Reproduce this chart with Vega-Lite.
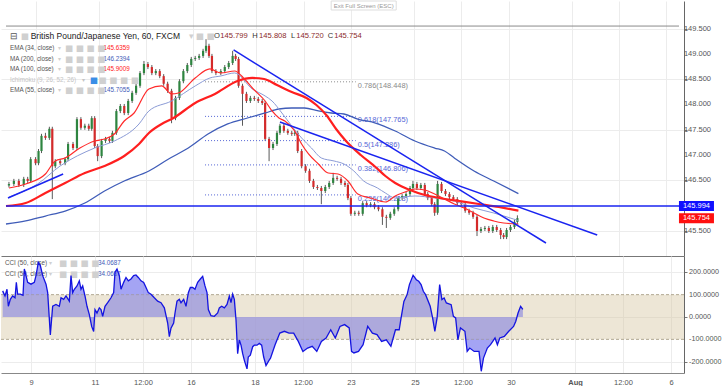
{
  "$schema": "https://vega.github.io/schema/vega-lite/v6.json",
  "padding": 0,
  "spacing": 0,
  "background": "white",
  "config": {"view": {"stroke": null}, "font": "Liberation Sans", "text": {"font": "Liberation Sans"}},
  "datasets": {
    "candles": [
      {"t":-0.844,"o":146.40,"h":146.47,"l":146.36,"c":146.43},{"t":-0.688,"o":146.43,"h":146.53,"l":146.39,"c":146.49},{"t":-0.531,"o":146.49,"h":146.53,"l":146.37,"c":146.41},{"t":-0.375,"o":146.41,"h":146.57,"l":146.37,"c":146.53},{"t":-0.25,"o":146.53,"h":146.57,"l":146.45,"c":146.49},{"t":-0.156,"o":146.49,"h":146.96,"l":146.45,"c":146.92},{"t":0,"o":146.92,"h":146.96,"l":146.80,"c":146.84},{"t":0.094,"o":146.84,"h":147.12,"l":146.80,"c":147.08},{"t":0.188,"o":147.08,"h":147.42,"l":147.04,"c":147.38},{"t":0.313,"o":147.38,"h":147.44,"l":147.30,"c":147.34},{"t":0.438,"o":147.34,"h":147.56,"l":147.30,"c":147.52},{"t":0.531,"o":147.52,"h":147.56,"l":146.13,"c":146.78},{"t":0.625,"o":146.78,"h":146.92,"l":146.74,"c":146.88},{"t":0.781,"o":146.88,"h":146.92,"l":146.80,"c":146.84},{"t":0.938,"o":146.84,"h":146.96,"l":146.80,"c":146.92},{"t":1.031,"o":146.92,"h":147.26,"l":146.88,"c":147.22},{"t":1.188,"o":147.22,"h":147.26,"l":147.10,"c":147.14},{"t":1.313,"o":147.14,"h":147.75,"l":147.10,"c":147.71},{"t":1.438,"o":147.71,"h":147.75,"l":147.50,"c":147.54},{"t":1.563,"o":147.54,"h":147.62,"l":147.50,"c":147.58},{"t":1.688,"o":147.58,"h":147.62,"l":147.48,"c":147.52},{"t":1.781,"o":147.52,"h":147.77,"l":147.48,"c":147.73},{"t":1.875,"o":147.73,"h":147.77,"l":147.14,"c":147.18},{"t":1.969,"o":147.18,"h":147.22,"l":146.88,"c":146.98},{"t":2.094,"o":146.98,"h":147.32,"l":146.94,"c":147.28},{"t":2.219,"o":147.28,"h":147.36,"l":147.24,"c":147.32},{"t":2.344,"o":147.32,"h":147.36,"l":147.24,"c":147.28},{"t":2.438,"o":147.28,"h":147.48,"l":147.24,"c":147.44},{"t":2.563,"o":147.44,"h":147.91,"l":147.40,"c":147.87},{"t":2.688,"o":147.87,"h":148.01,"l":147.83,"c":147.97},{"t":2.813,"o":147.97,"h":148.01,"l":147.79,"c":147.83},{"t":2.938,"o":147.83,"h":148.11,"l":147.79,"c":148.07},{"t":3.063,"o":148.07,"h":148.27,"l":148.03,"c":148.23},{"t":3.188,"o":148.23,"h":148.41,"l":148.19,"c":148.37},{"t":3.313,"o":148.37,"h":148.66,"l":148.33,"c":148.62},{"t":3.438,"o":148.62,"h":148.86,"l":148.58,"c":148.80},{"t":3.563,"o":148.80,"h":148.84,"l":148.70,"c":148.74},{"t":3.688,"o":148.74,"h":148.78,"l":148.58,"c":148.62},{"t":3.813,"o":148.62,"h":148.70,"l":148.58,"c":148.66},{"t":3.938,"o":148.66,"h":148.70,"l":148.52,"c":148.56},{"t":4.063,"o":148.56,"h":148.60,"l":148.37,"c":148.41},{"t":4.188,"o":148.41,"h":148.45,"l":148.23,"c":148.27},{"t":4.313,"o":148.27,"h":148.31,"l":147.63,"c":147.73},{"t":4.438,"o":147.73,"h":148.17,"l":147.69,"c":148.13},{"t":4.563,"o":148.13,"h":148.50,"l":148.09,"c":148.46},{"t":4.688,"o":148.46,"h":148.70,"l":148.42,"c":148.66},{"t":4.813,"o":148.66,"h":148.82,"l":148.62,"c":148.78},{"t":4.938,"o":148.78,"h":148.94,"l":148.74,"c":148.90},{"t":5.063,"o":148.90,"h":148.96,"l":148.86,"c":148.92},{"t":5.188,"o":148.92,"h":149.00,"l":148.88,"c":148.96},{"t":5.313,"o":148.96,"h":149.10,"l":148.92,"c":149.06},{"t":5.406,"o":149.06,"h":149.29,"l":149.02,"c":149.16},{"t":5.5,"o":149.16,"h":149.20,"l":148.92,"c":148.96},{"t":5.594,"o":148.96,"h":149.00,"l":148.62,"c":148.66},{"t":5.719,"o":148.66,"h":148.70,"l":148.58,"c":148.62},{"t":5.875,"o":148.62,"h":148.70,"l":148.58,"c":148.66},{"t":6.0,"o":148.66,"h":148.78,"l":148.62,"c":148.74},{"t":6.125,"o":148.74,"h":148.86,"l":148.70,"c":148.82},{"t":6.25,"o":148.82,"h":149.06,"l":148.78,"c":148.96},{"t":6.344,"o":148.96,"h":149.00,"l":148.86,"c":148.90},{"t":6.438,"o":148.90,"h":148.94,"l":148.33,"c":148.37},{"t":6.563,"o":148.37,"h":148.41,"l":147.58,"c":148.21},{"t":6.688,"o":148.21,"h":148.25,"l":148.03,"c":148.07},{"t":6.813,"o":148.07,"h":148.17,"l":148.03,"c":148.13},{"t":6.938,"o":148.13,"h":148.17,"l":148.07,"c":148.11},{"t":7.063,"o":148.11,"h":148.15,"l":148.03,"c":148.07},{"t":7.188,"o":148.07,"h":148.11,"l":147.99,"c":148.03},{"t":7.281,"o":148.03,"h":148.07,"l":147.28,"c":147.32},{"t":7.406,"o":147.32,"h":147.36,"l":146.88,"c":147.14},{"t":7.531,"o":147.14,"h":147.26,"l":147.10,"c":147.22},{"t":7.656,"o":147.22,"h":147.48,"l":147.18,"c":147.44},{"t":7.75,"o":147.44,"h":147.62,"l":147.40,"c":147.58},{"t":7.875,"o":147.58,"h":147.62,"l":147.44,"c":147.48},{"t":8.0,"o":147.48,"h":147.52,"l":147.40,"c":147.44},{"t":8.125,"o":147.44,"h":147.48,"l":147.38,"c":147.42},{"t":8.219,"o":147.42,"h":147.48,"l":147.38,"c":147.44},{"t":8.313,"o":147.44,"h":147.48,"l":147.04,"c":147.08},{"t":8.438,"o":147.08,"h":147.12,"l":146.74,"c":146.78},{"t":8.563,"o":146.78,"h":146.82,"l":146.65,"c":146.69},{"t":8.688,"o":146.69,"h":146.73,"l":146.45,"c":146.49},{"t":8.813,"o":146.49,"h":146.53,"l":146.33,"c":146.37},{"t":8.938,"o":146.37,"h":146.41,"l":146.31,"c":146.35},{"t":9.063,"o":146.35,"h":146.39,"l":146.03,"c":146.29},{"t":9.188,"o":146.29,"h":146.41,"l":146.25,"c":146.37},{"t":9.313,"o":146.37,"h":146.49,"l":146.33,"c":146.45},{"t":9.438,"o":146.45,"h":146.65,"l":146.41,"c":146.55},{"t":9.563,"o":146.55,"h":146.59,"l":146.49,"c":146.53},{"t":9.688,"o":146.53,"h":146.57,"l":146.41,"c":146.45},{"t":9.813,"o":146.45,"h":146.49,"l":146.37,"c":146.41},{"t":9.906,"o":146.41,"h":146.45,"l":146.11,"c":146.15},{"t":10.0,"o":146.15,"h":146.19,"l":145.80,"c":145.84},{"t":10.125,"o":145.84,"h":145.90,"l":145.80,"c":145.86},{"t":10.25,"o":145.86,"h":145.90,"l":145.80,"c":145.84},{"t":10.375,"o":145.84,"h":146.09,"l":145.80,"c":146.05},{"t":10.5,"o":146.05,"h":146.09,"l":145.97,"c":146.01},{"t":10.625,"o":146.01,"h":146.07,"l":145.97,"c":146.03},{"t":10.75,"o":146.03,"h":146.07,"l":145.93,"c":145.97},{"t":10.875,"o":145.97,"h":146.01,"l":145.89,"c":145.93},{"t":11.0,"o":145.93,"h":145.97,"l":145.62,"c":145.78},{"t":11.125,"o":145.78,"h":145.82,"l":145.56,"c":145.76},{"t":11.25,"o":145.76,"h":145.88,"l":145.72,"c":145.84},{"t":11.375,"o":145.84,"h":145.97,"l":145.80,"c":145.93},{"t":11.5,"o":145.93,"h":146.19,"l":145.89,"c":146.15},{"t":11.625,"o":146.15,"h":146.23,"l":146.11,"c":146.19},{"t":11.75,"o":146.19,"h":146.27,"l":146.15,"c":146.23},{"t":11.875,"o":146.23,"h":146.39,"l":146.19,"c":146.35},{"t":11.969,"o":146.35,"h":146.49,"l":146.31,"c":146.43},{"t":12.094,"o":146.43,"h":146.47,"l":146.31,"c":146.35},{"t":12.219,"o":146.35,"h":146.45,"l":146.31,"c":146.41},{"t":12.344,"o":146.41,"h":146.45,"l":146.19,"c":146.23},{"t":12.438,"o":146.23,"h":146.27,"l":146.11,"c":146.15},{"t":12.563,"o":146.15,"h":146.19,"l":145.99,"c":146.03},{"t":12.656,"o":146.03,"h":146.07,"l":145.80,"c":145.86},{"t":12.75,"o":145.86,"h":146.49,"l":145.82,"c":146.43},{"t":12.875,"o":146.43,"h":146.47,"l":146.25,"c":146.29},{"t":13.0,"o":146.29,"h":146.33,"l":146.19,"c":146.23},{"t":13.125,"o":146.23,"h":146.27,"l":146.13,"c":146.17},{"t":13.25,"o":146.17,"h":146.21,"l":146.09,"c":146.13},{"t":13.375,"o":146.13,"h":146.17,"l":146.01,"c":146.05},{"t":13.5,"o":146.05,"h":146.09,"l":145.99,"c":146.03},{"t":13.625,"o":146.03,"h":146.07,"l":145.86,"c":145.90},{"t":13.75,"o":145.90,"h":145.94,"l":145.82,"c":145.86},{"t":13.875,"o":145.86,"h":145.90,"l":145.74,"c":145.78},{"t":14.0,"o":145.78,"h":145.82,"l":145.40,"c":145.50},{"t":14.125,"o":145.50,"h":145.58,"l":145.46,"c":145.54},{"t":14.25,"o":145.54,"h":145.60,"l":145.50,"c":145.56},{"t":14.375,"o":145.56,"h":145.60,"l":145.46,"c":145.50},{"t":14.5,"o":145.50,"h":145.62,"l":145.46,"c":145.58},{"t":14.625,"o":145.58,"h":145.62,"l":145.48,"c":145.52},{"t":14.75,"o":145.52,"h":145.56,"l":145.34,"c":145.42},{"t":14.844,"o":145.42,"h":145.46,"l":145.34,"c":145.38},{"t":14.938,"o":145.38,"h":145.56,"l":145.34,"c":145.52},{"t":15.063,"o":145.52,"h":145.62,"l":145.48,"c":145.58},{"t":15.188,"o":145.58,"h":145.72,"l":145.54,"c":145.68},{"t":15.281,"o":145.68,"h":145.81,"l":145.64,"c":145.754}
    ],
    "ma100": [
      {"t":-0.9375,"p":145.994},{"t":-0.3125,"p":146.053},{"t":0.3125,"p":146.251},{"t":0.9375,"p":146.449},{"t":1.5625,"p":146.646},{"t":2.1875,"p":146.785},{"t":2.8125,"p":146.982},{"t":3.281,"p":147.219},{"t":3.594,"p":147.437},{"t":4.0,"p":147.615},{"t":4.375,"p":147.733},{"t":5.0625,"p":148.030},{"t":5.6875,"p":148.208},{"t":6.406,"p":148.464},{"t":6.875,"p":148.524},{"t":7.25,"p":148.504},{"t":7.656,"p":148.385},{"t":8.125,"p":148.247},{"t":8.594,"p":148.128},{"t":8.906,"p":147.990},{"t":9.219,"p":147.793},{"t":9.531,"p":147.516},{"t":9.844,"p":147.279},{"t":10.3125,"p":147.002},{"t":10.78,"p":146.765},{"t":11.094,"p":146.587},{"t":11.406,"p":146.449},{"t":11.875,"p":146.310},{"t":12.344,"p":146.211},{"t":12.8125,"p":146.152},{"t":13.4375,"p":146.093},{"t":14.0625,"p":146.034},{"t":14.6875,"p":145.974},{"t":15.3125,"p":145.901}
    ],
    "ema34": [
      {"t":-0.844,"p":146.350},{"t":-0.3125,"p":146.429},{"t":0.3125,"p":146.626},{"t":0.625,"p":146.883},{"t":0.9375,"p":146.943},{"t":1.406,"p":147.140},{"t":1.875,"p":147.279},{"t":2.1875,"p":147.318},{"t":2.5,"p":147.417},{"t":2.8125,"p":147.674},{"t":3.125,"p":147.832},{"t":3.594,"p":148.306},{"t":4.0,"p":148.366},{"t":4.3125,"p":148.208},{"t":4.531,"p":148.227},{"t":5.0625,"p":148.524},{"t":5.531,"p":148.702},{"t":5.875,"p":148.623},{"t":6.3125,"p":148.662},{"t":6.625,"p":148.504},{"t":6.875,"p":148.326},{"t":7.281,"p":148.069},{"t":7.5,"p":147.872},{"t":7.719,"p":147.733},{"t":7.906,"p":147.674},{"t":8.219,"p":147.476},{"t":8.4375,"p":147.219},{"t":8.656,"p":147.022},{"t":8.969,"p":146.824},{"t":9.281,"p":146.646},{"t":9.594,"p":146.626},{"t":9.906,"p":146.488},{"t":10.219,"p":146.231},{"t":10.625,"p":146.152},{"t":11.094,"p":146.073},{"t":11.406,"p":146.192},{"t":11.719,"p":146.271},{"t":12.031,"p":146.330},{"t":12.344,"p":146.310},{"t":12.656,"p":146.231},{"t":12.969,"p":146.132},{"t":13.281,"p":146.034},{"t":13.594,"p":145.955},{"t":13.906,"p":145.856},{"t":14.219,"p":145.757},{"t":14.531,"p":145.698},{"t":14.844,"p":145.658},{"t":15.3125,"p":145.636}
    ],
    "ema55": [
      {"t":-0.844,"p":146.172},{"t":0.0625,"p":146.429},{"t":0.781,"p":146.785},{"t":1.875,"p":147.140},{"t":2.5,"p":147.279},{"t":3.281,"p":147.615},{"t":3.594,"p":147.872},{"t":4.3125,"p":148.069},{"t":5.0625,"p":148.366},{"t":5.531,"p":148.524},{"t":5.875,"p":148.563},{"t":6.3125,"p":148.623},{"t":6.875,"p":148.306},{"t":7.281,"p":148.168},{"t":7.5,"p":148.069},{"t":7.8125,"p":147.832},{"t":8.125,"p":147.575},{"t":8.4375,"p":147.338},{"t":8.75,"p":147.140},{"t":9.0625,"p":146.943},{"t":9.469,"p":146.883},{"t":9.781,"p":146.824},{"t":10.094,"p":146.686},{"t":10.406,"p":146.488},{"t":10.844,"p":146.350},{"t":11.094,"p":146.251},{"t":11.406,"p":146.152},{"t":12.031,"p":146.192},{"t":12.656,"p":146.152},{"t":13.281,"p":146.093},{"t":13.906,"p":145.955},{"t":14.531,"p":145.856},{"t":15.156,"p":145.737},{"t":15.3125,"p":145.706}
    ],
    "ma200": [
      {"t":-0.9375,"p":145.638},{"t":-0.3125,"p":145.698},{"t":0.3125,"p":145.796},{"t":0.9375,"p":145.895},{"t":1.5625,"p":146.053},{"t":2.1875,"p":146.291},{"t":2.8125,"p":146.488},{"t":3.594,"p":146.686},{"t":4.219,"p":146.923},{"t":4.844,"p":147.140},{"t":5.469,"p":147.417},{"t":6.094,"p":147.615},{"t":6.719,"p":147.733},{"t":7.281,"p":147.832},{"t":7.719,"p":147.911},{"t":8.125,"p":147.931},{"t":8.531,"p":147.931},{"t":8.969,"p":147.872},{"t":9.375,"p":147.832},{"t":9.781,"p":147.812},{"t":10.219,"p":147.713},{"t":10.78,"p":147.634},{"t":11.406,"p":147.476},{"t":12.031,"p":147.279},{"t":12.656,"p":147.140},{"t":12.969,"p":147.081},{"t":13.281,"p":146.943},{"t":13.906,"p":146.686},{"t":14.531,"p":146.488},{"t":15.3125,"p":146.239}
    ],
    "trend": [
      {"id":"A","t":6.281,"p":149.077},{"id":"A","t":16.1875,"p":145.263},
      {"id":"B","t":7.75,"p":147.654},{"id":"B","t":17.8125,"p":145.42},
      {"id":"C","t":-0.875,"p":146.152},{"id":"C","t":0.875,"p":146.626}
    ],
    "fib": [
      {"p":148.448,"s":"0.786(148.448)","k":"fibg"},
      {"p":147.765,"s":"0.618(147.765)","k":"fibb"},
      {"p":147.286,"s":"0.5(147.286)","k":"fibb"},
      {"p":146.806,"s":"0.382(146.806)","k":"fibb"},
      {"p":146.213,"s":"0.236(146.213)","k":"fibb"}
    ],
    "priceTicks": [
      {"p":145.5},{"p":146.0},{"p":146.5},{"p":147.0},{"p":147.5},{"p":148.0},{"p":148.5},{"p":149.0},{"p":149.5}
    ],
    "cciTicks": [
      {"v":200,"s":"200.0000"},{"v":100,"s":"100.0000"},{"v":0,"s":"0.0000"},{"v":-100,"s":"-100.0000"},{"v":-200,"s":"-200.0000"}
    ],
    "boxes": [
      {"p":145.994,"s":"145.994","k":"boxb"},
      {"p":145.754,"s":"145.754","k":"boxr"}
    ],
    "legTitle": [
      {"t":-0.8125,"p":149.354,"s":"⊟","k":"lab"},
      {"t":-0.156,"p":149.354,"s":"British Pound/Japanese Yen, 60, FXCM","k":"title"},
      {"t":4.875,"p":149.354,"s":"▾","k":"icon"}
    ],
    "legOHLC": [
      {"t":5.656,"p":149.354,"s":"O","k":"dark"},
      {"t":5.86,"p":149.354,"s":"145.799","k":"num"},
      {"t":6.875,"p":149.354,"s":"H","k":"dark"},
      {"t":7.09,"p":149.354,"s":"145.808","k":"num"},
      {"t":8.1,"p":149.354,"s":"L","k":"dark"},
      {"t":8.27,"p":149.354,"s":"145.720","k":"num"},
      {"t":9.27,"p":149.354,"s":"C","k":"dark"},
      {"t":9.47,"p":149.354,"s":"145.754","k":"num"}
    ],
    "legRows": [
      {"t":-0.8125,"p":149.117,"s":"EMA (34, close)","k":"lab"},
      {"t":0.72,"p":149.117,"s":"▾","k":"icon"},
      {"t":2.156,"p":149.117,"s":"145.6359","k":"red"},
      {"t":-0.8125,"p":148.899,"s":"MA (200, close)","k":"lab"},
      {"t":0.72,"p":148.899,"s":"▾","k":"icon"},
      {"t":2.156,"p":148.899,"s":"146.2394","k":"blue"},
      {"t":-0.8125,"p":148.702,"s":"MA (100, close)","k":"lab"},
      {"t":0.72,"p":148.702,"s":"▾","k":"icon"},
      {"t":2.156,"p":148.702,"s":"145.9009","k":"red"},
      {"t":-0.8125,"p":148.484,"s":"Ichimoku (9, 26, 52, 26)","k":"faint"},
      {"t":1.47,"p":148.484,"s":"▾","k":"faint"},
      {"t":-0.8125,"p":148.287,"s":"EMA (55, close)","k":"lab"},
      {"t":0.72,"p":148.287,"s":"▾","k":"icon"},
      {"t":2.156,"p":148.287,"s":"145.7055","k":"blue"}
    ],
    "legIcons": [
      {"t":-0.47,"p":149.354,"s":"■","k":"icon"},
      {"t":0.9375,"p":149.117,"s":"■ ■ ■ ■","k":"icon"},
      {"t":0.9375,"p":148.899,"s":"■ ■ ■ ■","k":"icon"},
      {"t":0.9375,"p":148.702,"s":"■ ■ ■ ■","k":"icon"},
      {"t":1.72,"p":148.484,"s":"■","k":"eye"},
      {"t":2.0,"p":148.484,"s":"■ ■ ■ ■","k":"icon"},
      {"t":0.9375,"p":148.287,"s":"■ ■ ■ ■","k":"icon"},
      {"t":5.08,"p":149.354,"s":"■ ■","k":"icon"}
    ],
    "cci": [
      {"t":-0.885,"v":117},{"t":-0.8125,"v":94},{"t":-0.75,"v":124},{"t":-0.708,"v":48},{"t":-0.646,"v":79},{"t":-0.573,"v":94},{"t":-0.5,"v":86},{"t":-0.458,"v":155},{"t":-0.417,"v":102},{"t":-0.333,"v":102},{"t":-0.25,"v":97},{"t":-0.208,"v":215},{"t":-0.156,"v":185},{"t":-0.104,"v":155},{"t":0,"v":147},{"t":0.104,"v":155},{"t":0.156,"v":185},{"t":0.229,"v":245},{"t":0.292,"v":230},{"t":0.365,"v":185},{"t":0.469,"v":147},{"t":0.521,"v":109},{"t":0.604,"v":-80},{"t":0.677,"v":48},{"t":0.781,"v":56},{"t":0.885,"v":48},{"t":0.938,"v":86},{"t":1.021,"v":79},{"t":1.094,"v":94},{"t":1.198,"v":71},{"t":1.25,"v":185},{"t":1.302,"v":109},{"t":1.354,"v":124},{"t":1.4375,"v":139},{"t":1.51,"v":162},{"t":1.5625,"v":124},{"t":1.615,"v":139},{"t":1.6875,"v":94},{"t":1.75,"v":48},{"t":1.823,"v":11},{"t":1.896,"v":-42},{"t":1.958,"v":-65},{"t":2.0,"v":33},{"t":2.0625,"v":18},{"t":2.135,"v":41},{"t":2.1875,"v":33},{"t":2.24,"v":3},{"t":2.3125,"v":48},{"t":2.396,"v":64},{"t":2.5,"v":86},{"t":2.583,"v":109},{"t":2.625,"v":200},{"t":2.6875,"v":215},{"t":2.76,"v":185},{"t":2.8125,"v":124},{"t":2.896,"v":155},{"t":2.969,"v":177},{"t":3.042,"v":162},{"t":3.125,"v":170},{"t":3.208,"v":185},{"t":3.281,"v":188},{"t":3.354,"v":177},{"t":3.4375,"v":162},{"t":3.521,"v":155},{"t":3.594,"v":132},{"t":3.667,"v":109},{"t":3.75,"v":102},{"t":3.854,"v":86},{"t":3.958,"v":71},{"t":4.0625,"v":64},{"t":4.167,"v":41},{"t":4.271,"v":-27},{"t":4.323,"v":-88},{"t":4.375,"v":-50},{"t":4.458,"v":-27},{"t":4.5,"v":18},{"t":4.5625,"v":71},{"t":4.635,"v":79},{"t":4.6875,"v":64},{"t":4.771,"v":79},{"t":4.844,"v":48},{"t":4.917,"v":109},{"t":4.979,"v":132},{"t":5.052,"v":132},{"t":5.125,"v":124},{"t":5.208,"v":155},{"t":5.292,"v":170},{"t":5.365,"v":182},{"t":5.4375,"v":139},{"t":5.5,"v":109},{"t":5.542,"v":33},{"t":5.625,"v":6},{"t":5.729,"v":3},{"t":5.833,"v":18},{"t":5.885,"v":41},{"t":5.958,"v":48},{"t":6.042,"v":41},{"t":6.125,"v":56},{"t":6.198,"v":94},{"t":6.25,"v":64},{"t":6.302,"v":102},{"t":6.354,"v":79},{"t":6.406,"v":-12},{"t":6.458,"v":-164},{"t":6.51,"v":-103},{"t":6.5625,"v":-126},{"t":6.615,"v":-164},{"t":6.667,"v":-194},{"t":6.75,"v":-232},{"t":6.79,"v":-179},{"t":6.854,"v":-171},{"t":6.927,"v":-133},{"t":6.979,"v":-126},{"t":7.0625,"v":-126},{"t":7.135,"v":-118},{"t":7.208,"v":-126},{"t":7.271,"v":-179},{"t":7.344,"v":-217},{"t":7.4375,"v":-194},{"t":7.484,"v":-184},{"t":7.628,"v":-124},{"t":7.775,"v":-72},{"t":7.919,"v":-64},{"t":8.0625,"v":-72},{"t":8.209,"v":-72},{"t":8.353,"v":-109},{"t":8.497,"v":-154},{"t":8.644,"v":-139},{"t":8.788,"v":-131},{"t":8.931,"v":-154},{"t":9.075,"v":-109},{"t":9.222,"v":-94},{"t":9.366,"v":-57},{"t":9.509,"v":-94},{"t":9.655,"v":-42},{"t":9.8,"v":-34},{"t":9.944,"v":-49},{"t":10.016,"v":-154},{"t":10.09,"v":-161},{"t":10.234,"v":-154},{"t":10.378,"v":-124},{"t":10.522,"v":-42},{"t":10.669,"v":-72},{"t":10.8125,"v":-79},{"t":10.956,"v":-109},{"t":11.103,"v":-102},{"t":11.247,"v":-131},{"t":11.39,"v":-57},{"t":11.506,"v":-57},{"t":11.565,"v":-4},{"t":11.653,"v":70},{"t":11.753,"v":100},{"t":11.825,"v":145},{"t":11.94,"v":187},{"t":12.042,"v":167},{"t":12.116,"v":160},{"t":12.19,"v":145},{"t":12.26,"v":115},{"t":12.33,"v":100},{"t":12.475,"v":48},{"t":12.55,"v":-4},{"t":12.62,"v":-64},{"t":12.69,"v":-4},{"t":12.77,"v":145},{"t":12.84,"v":78},{"t":12.91,"v":85},{"t":12.98,"v":63},{"t":13.13,"v":55},{"t":13.2,"v":3},{"t":13.27,"v":-4},{"t":13.34,"v":-102},{"t":13.42,"v":-49},{"t":13.56,"v":-64},{"t":13.63,"v":-154},{"t":13.71,"v":-139},{"t":13.85,"v":-154},{"t":14.0,"v":-154},{"t":14.07,"v":-243},{"t":14.14,"v":-184},{"t":14.26,"v":-139},{"t":14.36,"v":-124},{"t":14.43,"v":-109},{"t":14.5,"v":-94},{"t":14.575,"v":-124},{"t":14.65,"v":-94},{"t":14.79,"v":-87},{"t":14.93,"v":-64},{"t":15.08,"v":-42},{"t":15.15,"v":-19},{"t":15.22,"v":18},{"t":15.30,"v":48},{"t":15.37,"v":34}
    ],
    "cciLeg": [
      {"t":-0.8125,"v":241.6,"s":"CCI (50, close)","k":"lab"},
      {"t":0.5625,"v":241.6,"s":"▾","k":"icon"},
      {"t":2.094,"v":241.6,"s":"34.0687","k":"blue"},
      {"t":-0.8125,"v":192.4,"s":"CCI (50, close)","k":"lab"},
      {"t":0.5625,"v":192.4,"s":"▾","k":"icon"},
      {"t":2.094,"v":192.4,"s":"34.0687","k":"blue"}
    ],
    "cciIcons": [
      {"t":0.875,"v":241.6,"s":"■ ■ ■ ■","k":"icon"},
      {"t":0.875,"v":192.4,"s":"■ ■ ■ ■","k":"icon"}
    ]
  },
  "vconcat": [
    {
      "width": 683,
      "height": 255,
      "layer": [
        {
          "data": {"name": "candles"},
          "mark": {"type": "rule", "color": "#5a5a5a", "strokeWidth": 1},
          "encoding": {
            "x": {"field": "t", "type": "quantitative", "title": null, "scale": {"domain": [-0.9375, 20.406], "nice": false, "zero": false},
              "axis": {"orient": "bottom", "labels": false, "ticks": false, "domain": true, "domainColor": "#777", "grid": true, "gridColor": "#ececec", "values": [0, 2, 3.5, 5, 7, 8.5, 10, 12, 13.5, 15, 17, 18.5, 20], "title": null}},
            "y": {"field": "l", "type": "quantitative", "title": null, "scale": {"domain": [145.006, 150.045], "nice": false, "zero": false},
              "axis": {"orient": "right", "values": [145.5, 146, 146.5, 147, 147.5, 148, 148.5, 149, 149.5], "labels": false, "grid": true, "gridColor": "#ececec", "tickSize": 3, "tickColor": "#777", "domainColor": "#666", "title": null}},
            "y2": {"field": "h"}
          }
        },
        {
          "data": {"name": "priceTicks"},
          "mark": {"type": "text", "align": "left", "baseline": "middle", "fontSize": 7.5, "color": "#555555"},
          "encoding": {
            "x": {"datum": 20.5625, "type": "quantitative", "scale": {"domain": [-0.9375, 20.406], "nice": false, "zero": false}},
            "y": {"field": "p", "type": "quantitative", "title": null, "scale": {"domain": [145.006, 150.045], "nice": false, "zero": false}},
            "text": {"field": "p", "type": "quantitative", "format": ".3f"}
          }
        },
        {
          "data": {"values": [{}]},
          "mark": {"type": "rule", "color": "#8a8a8a", "strokeWidth": 1},
          "encoding": {
            "x": {"datum": -0.9375, "type": "quantitative", "scale": {"domain": [-0.9375, 20.406], "nice": false, "zero": false}},
            "x2": {"datum": 20.406},
            "y": {"datum": 149.55, "type": "quantitative", "scale": {"domain": [145.006, 150.045], "nice": false, "zero": false}}
          }
        },
        {
          "data": {"name": "fib"},
          "mark": {"type": "rule", "strokeDash": [1, 2], "strokeWidth": 1},
          "encoding": {
            "x": {"datum": 5.375, "type": "quantitative", "scale": {"domain": [-0.9375, 20.406], "nice": false, "zero": false}},
            "x2": {"datum": 10.156},
            "y": {"field": "p", "type": "quantitative", "title": null, "scale": {"domain": [145.006, 150.045], "nice": false, "zero": false}},
            "color": {"field": "k", "type": "nominal", "legend": null, "scale": {"domain": ["lab", "red", "blue", "faint", "icon", "title", "num", "fibg", "fibb", "eye", "dark", "boxb", "boxr"], "range": ["#555555", "#ff2020", "#3f5cb8", "#c4c4c4", "#d0d0d0", "#222222", "#8b2a2a", "#8a8a8a", "#5566d6", "#3a8ee6", "#333333", "#1010ff", "#ff1010"]}}
          }
        },
        {
          "data": {"name": "fib"},
          "mark": {"type": "text", "align": "left", "baseline": "middle", "dy": 4, "fontSize": 7.4},
          "encoding": {
            "x": {"datum": 10.22, "type": "quantitative", "scale": {"domain": [-0.9375, 20.406], "nice": false, "zero": false}},
            "y": {"field": "p", "type": "quantitative", "title": null, "scale": {"domain": [145.006, 150.045], "nice": false, "zero": false}},
            "text": {"field": "s"},
            "color": {"field": "k", "type": "nominal", "legend": null, "scale": {"domain": ["lab", "red", "blue", "faint", "icon", "title", "num", "fibg", "fibb", "eye", "dark", "boxb", "boxr"], "range": ["#555555", "#ff2020", "#3f5cb8", "#c4c4c4", "#d0d0d0", "#222222", "#8b2a2a", "#8a8a8a", "#5566d6", "#3a8ee6", "#333333", "#1010ff", "#ff1010"]}}
          }
        },
        {
          "data": {"name": "candles"},
          "mark": {"type": "bar", "size": 2.2},
          "encoding": {
            "x": {"field": "t", "type": "quantitative", "title": null, "scale": {"domain": [-0.9375, 20.406], "nice": false, "zero": false}},
            "y": {"field": "o", "type": "quantitative", "title": null, "scale": {"domain": [145.006, 150.045], "nice": false, "zero": false}},
            "y2": {"field": "c"},
            "color": {"condition": {"test": "datum.c >= datum.o", "value": "#2e8540"}, "value": "#d42a2a"}
          }
        },
        {
          "data": {"name": "ma200"},
          "mark": {"type": "line", "color": "#3f5cb8", "strokeWidth": 1.3, "interpolate": "monotone"},
          "encoding": {
            "x": {"field": "t", "type": "quantitative", "title": null, "scale": {"domain": [-0.9375, 20.406], "nice": false, "zero": false}},
            "y": {"field": "p", "type": "quantitative", "title": null, "scale": {"domain": [145.006, 150.045], "nice": false, "zero": false}}
          }
        },
        {
          "data": {"name": "ema55"},
          "mark": {"type": "line", "color": "#8b9bd6", "strokeWidth": 1, "interpolate": "monotone"},
          "encoding": {
            "x": {"field": "t", "type": "quantitative", "title": null, "scale": {"domain": [-0.9375, 20.406], "nice": false, "zero": false}},
            "y": {"field": "p", "type": "quantitative", "title": null, "scale": {"domain": [145.006, 150.045], "nice": false, "zero": false}}
          }
        },
        {
          "data": {"name": "ma100"},
          "mark": {"type": "line", "color": "#ff1f1f", "strokeWidth": 2.2, "interpolate": "monotone"},
          "encoding": {
            "x": {"field": "t", "type": "quantitative", "title": null, "scale": {"domain": [-0.9375, 20.406], "nice": false, "zero": false}},
            "y": {"field": "p", "type": "quantitative", "title": null, "scale": {"domain": [145.006, 150.045], "nice": false, "zero": false}}
          }
        },
        {
          "data": {"name": "ema34"},
          "mark": {"type": "line", "color": "#ff2a2a", "strokeWidth": 1.2, "interpolate": "monotone"},
          "encoding": {
            "x": {"field": "t", "type": "quantitative", "title": null, "scale": {"domain": [-0.9375, 20.406], "nice": false, "zero": false}},
            "y": {"field": "p", "type": "quantitative", "title": null, "scale": {"domain": [145.006, 150.045], "nice": false, "zero": false}}
          }
        },
        {
          "data": {"name": "trend"},
          "mark": {"type": "line", "color": "#1a24f0", "strokeWidth": 1.5},
          "encoding": {
            "x": {"field": "t", "type": "quantitative", "title": null, "scale": {"domain": [-0.9375, 20.406], "nice": false, "zero": false}},
            "y": {"field": "p", "type": "quantitative", "title": null, "scale": {"domain": [145.006, 150.045], "nice": false, "zero": false}},
            "detail": {"field": "id"}
          }
        },
        {
          "data": {"values": [{}]},
          "mark": {"type": "rule", "color": "#1a24f0", "strokeWidth": 1.5},
          "encoding": {
            "x": {"datum": -0.9375, "type": "quantitative", "scale": {"domain": [-0.9375, 20.406], "nice": false, "zero": false}},
            "x2": {"datum": 20.406},
            "y": {"datum": 145.994, "type": "quantitative", "scale": {"domain": [145.006, 150.045], "nice": false, "zero": false}}
          }
        },
        {
          "data": {"values": [{}]},
          "mark": {"type": "rect", "fill": "white", "stroke": "#dddddd", "strokeWidth": 1},
          "encoding": {
            "x": {"datum": 9.375, "type": "quantitative", "scale": {"domain": [-0.9375, 20.406], "nice": false, "zero": false}},
            "x2": {"datum": 11.4375},
            "y": {"datum": 150.045, "type": "quantitative", "scale": {"domain": [145.006, 150.045], "nice": false, "zero": false}},
            "y2": {"datum": 149.867}
          }
        },
        {
          "data": {"values": [{"s": "Exit Full Screen (ESC)"}]},
          "mark": {"type": "text", "align": "center", "baseline": "middle", "fontSize": 6, "color": "#999999"},
          "encoding": {
            "x": {"datum": 10.406, "type": "quantitative", "scale": {"domain": [-0.9375, 20.406], "nice": false, "zero": false}},
            "y": {"datum": 149.955, "type": "quantitative", "scale": {"domain": [145.006, 150.045], "nice": false, "zero": false}},
            "text": {"field": "s"}
          }
        },
        {
          "data": {"name": "legTitle"},
          "mark": {"type": "text", "align": "left", "baseline": "middle", "fontSize": 8.5},
          "encoding": {
            "x": {"field": "t", "type": "quantitative", "title": null, "scale": {"domain": [-0.9375, 20.406], "nice": false, "zero": false}},
            "y": {"field": "p", "type": "quantitative", "title": null, "scale": {"domain": [145.006, 150.045], "nice": false, "zero": false}},
            "text": {"field": "s"},
            "color": {"field": "k", "type": "nominal", "legend": null, "scale": {"domain": ["lab", "red", "blue", "faint", "icon", "title", "num", "fibg", "fibb", "eye", "dark", "boxb", "boxr"], "range": ["#555555", "#ff2020", "#3f5cb8", "#c4c4c4", "#d0d0d0", "#222222", "#8b2a2a", "#8a8a8a", "#5566d6", "#3a8ee6", "#333333", "#1010ff", "#ff1010"]}}
          }
        },
        {
          "data": {"name": "legOHLC"},
          "mark": {"type": "text", "align": "left", "baseline": "middle", "fontSize": 7.6},
          "encoding": {
            "x": {"field": "t", "type": "quantitative", "title": null, "scale": {"domain": [-0.9375, 20.406], "nice": false, "zero": false}},
            "y": {"field": "p", "type": "quantitative", "title": null, "scale": {"domain": [145.006, 150.045], "nice": false, "zero": false}},
            "text": {"field": "s"},
            "color": {"field": "k", "type": "nominal", "legend": null, "scale": {"domain": ["lab", "red", "blue", "faint", "icon", "title", "num", "fibg", "fibb", "eye", "dark", "boxb", "boxr"], "range": ["#555555", "#ff2020", "#3f5cb8", "#c4c4c4", "#d0d0d0", "#222222", "#8b2a2a", "#8a8a8a", "#5566d6", "#3a8ee6", "#333333", "#1010ff", "#ff1010"]}}
          }
        },
        {
          "data": {"name": "legRows"},
          "mark": {"type": "text", "align": "left", "baseline": "middle", "fontSize": 6.3},
          "encoding": {
            "x": {"field": "t", "type": "quantitative", "title": null, "scale": {"domain": [-0.9375, 20.406], "nice": false, "zero": false}},
            "y": {"field": "p", "type": "quantitative", "title": null, "scale": {"domain": [145.006, 150.045], "nice": false, "zero": false}},
            "text": {"field": "s"},
            "color": {"field": "k", "type": "nominal", "legend": null, "scale": {"domain": ["lab", "red", "blue", "faint", "icon", "title", "num", "fibg", "fibb", "eye", "dark", "boxb", "boxr"], "range": ["#555555", "#ff2020", "#3f5cb8", "#c4c4c4", "#d0d0d0", "#222222", "#8b2a2a", "#8a8a8a", "#5566d6", "#3a8ee6", "#333333", "#1010ff", "#ff1010"]}}
          }
        },
        {
          "data": {"name": "legIcons"},
          "mark": {"type": "text", "align": "left", "baseline": "middle", "fontSize": 8.5, "font": "DejaVu Sans"},
          "encoding": {
            "x": {"field": "t", "type": "quantitative", "title": null, "scale": {"domain": [-0.9375, 20.406], "nice": false, "zero": false}},
            "y": {"field": "p", "type": "quantitative", "title": null, "scale": {"domain": [145.006, 150.045], "nice": false, "zero": false}},
            "text": {"field": "s"},
            "color": {"field": "k", "type": "nominal", "legend": null, "scale": {"domain": ["lab", "red", "blue", "faint", "icon", "title", "num", "fibg", "fibb", "eye", "dark", "boxb", "boxr"], "range": ["#555555", "#ff2020", "#3f5cb8", "#c4c4c4", "#d0d0d0", "#222222", "#8b2a2a", "#8a8a8a", "#5566d6", "#3a8ee6", "#333333", "#1010ff", "#ff1010"]}}
          }
        },
        {
          "data": {"name": "boxes"},
          "mark": {"type": "tick", "orient": "horizontal", "size": 35, "thickness": 10, "opacity": 1},
          "encoding": {
            "x": {"datum": 20.96, "type": "quantitative", "scale": {"domain": [-0.9375, 20.406], "nice": false, "zero": false}},
            "y": {"field": "p", "type": "quantitative", "title": null, "scale": {"domain": [145.006, 150.045], "nice": false, "zero": false}},
            "color": {"field": "k", "type": "nominal", "legend": null, "scale": {"domain": ["lab", "red", "blue", "faint", "icon", "title", "num", "fibg", "fibb", "eye", "dark", "boxb", "boxr"], "range": ["#555555", "#ff2020", "#3f5cb8", "#c4c4c4", "#d0d0d0", "#222222", "#8b2a2a", "#8a8a8a", "#5566d6", "#3a8ee6", "#333333", "#1010ff", "#ff1010"]}}
          }
        },
        {
          "data": {"name": "boxes"},
          "mark": {"type": "text", "align": "center", "baseline": "middle", "fontSize": 7.5, "color": "white"},
          "encoding": {
            "x": {"datum": 20.96, "type": "quantitative", "scale": {"domain": [-0.9375, 20.406], "nice": false, "zero": false}},
            "y": {"field": "p", "type": "quantitative", "title": null, "scale": {"domain": [145.006, 150.045], "nice": false, "zero": false}},
            "text": {"field": "s"}
          }
        }
      ]
    },
    {
      "width": 683,
      "height": 117,
      "layer": [
        {
          "data": {"name": "cci"},
          "mark": {"type": "area", "color": "#8484f0", "opacity": 0.6},
          "encoding": {
            "x": {"field": "t", "type": "quantitative", "title": null, "scale": {"domain": [-0.9375, 20.406], "nice": false, "zero": false},
              "axis": {"orient": "bottom", "values": [0, 2, 3.5, 5, 7, 8.5, 10, 12, 13.5, 15, 17, 18.5, 20], "labelExpr": "datum.value == 0 ? '9' : datum.value == 2 ? '11' : datum.value == 5 ? '16' : datum.value == 7 ? '18' : datum.value == 10 ? '23' : datum.value == 12 ? '25' : datum.value == 15 ? '30' : datum.value == 17 ? 'Aug' : datum.value == 20 ? '6' : '12:00'", "labelFontWeight": {"condition": {"test": "datum.value == 17", "value": "bold"}, "value": "normal"}, "grid": true, "gridColor": "#ececec", "ticks": false, "domain": true, "domainColor": "#888", "labelPadding": 5, "labelFontSize": 7.5, "labelColor": "#555", "labelFont": "Liberation Sans", "labelOverlap": false, "labelFlush": false, "title": null}},
            "y": {"field": "v", "type": "quantitative", "title": null, "scale": {"domain": [-250.6, 273], "nice": false, "zero": false},
              "axis": {"orient": "right", "values": [-200, -100, 0, 100, 200], "labels": false, "grid": true, "gridColor": "#ececec", "tickSize": 3, "tickColor": "#777", "domainColor": "#666", "title": null}},
            "y2": {"datum": 0}
          }
        },
        {
          "data": {"name": "cciTicks"},
          "mark": {"type": "text", "align": "left", "baseline": "middle", "fontSize": 7.2, "color": "#555555"},
          "encoding": {
            "x": {"datum": 20.5625, "type": "quantitative", "scale": {"domain": [-0.9375, 20.406], "nice": false, "zero": false}},
            "y": {"field": "v", "type": "quantitative", "title": null, "scale": {"domain": [-250.6, 273], "nice": false, "zero": false}},
            "text": {"field": "s"}
          }
        },
        {
          "data": {"values": [{}]},
          "mark": {"type": "rect", "color": "#d8c8a4", "opacity": 0.45},
          "encoding": {
            "x": {"datum": -0.9375, "type": "quantitative", "scale": {"domain": [-0.9375, 20.406], "nice": false, "zero": false}},
            "x2": {"datum": 20.406},
            "y": {"datum": -100, "type": "quantitative", "scale": {"domain": [-250.6, 273], "nice": false, "zero": false}},
            "y2": {"datum": 100}
          }
        },
        {
          "data": {"values": [{"v": -100}, {"v": 100}]},
          "mark": {"type": "rule", "color": "#b0a890", "strokeDash": [3, 2], "strokeWidth": 1},
          "encoding": {
            "x": {"datum": -0.9375, "type": "quantitative", "scale": {"domain": [-0.9375, 20.406], "nice": false, "zero": false}},
            "x2": {"datum": 20.406},
            "y": {"field": "v", "type": "quantitative", "title": null, "scale": {"domain": [-250.6, 273], "nice": false, "zero": false}}
          }
        },
        {
          "data": {"name": "cciLeg"},
          "mark": {"type": "text", "align": "left", "baseline": "middle", "fontSize": 6.3},
          "encoding": {
            "x": {"field": "t", "type": "quantitative", "title": null, "scale": {"domain": [-0.9375, 20.406], "nice": false, "zero": false}},
            "y": {"field": "v", "type": "quantitative", "title": null, "scale": {"domain": [-250.6, 273], "nice": false, "zero": false}},
            "text": {"field": "s"},
            "color": {"field": "k", "type": "nominal", "legend": null, "scale": {"domain": ["lab", "icon", "blue"], "range": ["#555555", "#d0d0d0", "#3535e0"]}}
          }
        },
        {
          "data": {"name": "cciIcons"},
          "mark": {"type": "text", "align": "left", "baseline": "middle", "fontSize": 8.5, "font": "DejaVu Sans"},
          "encoding": {
            "x": {"field": "t", "type": "quantitative", "title": null, "scale": {"domain": [-0.9375, 20.406], "nice": false, "zero": false}},
            "y": {"field": "v", "type": "quantitative", "title": null, "scale": {"domain": [-250.6, 273], "nice": false, "zero": false}},
            "text": {"field": "s"},
            "color": {"field": "k", "type": "nominal", "legend": null, "scale": {"domain": ["lab", "icon", "blue"], "range": ["#555555", "#d0d0d0", "#3535e0"]}}
          }
        },
        {
          "data": {"name": "cci"},
          "mark": {"type": "area", "color": "#8484f0", "opacity": 0.35},
          "encoding": {
            "x": {"field": "t", "type": "quantitative", "title": null, "scale": {"domain": [-0.9375, 20.406], "nice": false, "zero": false}},
            "y": {"field": "v", "type": "quantitative", "title": null, "scale": {"domain": [-250.6, 273], "nice": false, "zero": false}},
            "y2": {"datum": 0}
          }
        },
        {
          "data": {"name": "cci"},
          "mark": {"type": "line", "color": "#1414e0", "strokeWidth": 1.3},
          "encoding": {
            "x": {"field": "t", "type": "quantitative", "title": null, "scale": {"domain": [-0.9375, 20.406], "nice": false, "zero": false}},
            "y": {"field": "v", "type": "quantitative", "title": null, "scale": {"domain": [-250.6, 273], "nice": false, "zero": false}}
          }
        }
      ]
    }
  ]
}
